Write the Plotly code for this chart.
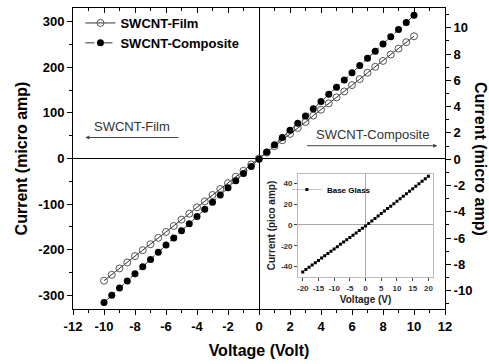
import plotly.graph_objects as go

voltage = [-10, -9.5, -9, -8.5, -8, -7.5, -7, -6.5, -6, -5.5, -5, -4.5, -4, -3.5, -3, -2.5, -2, -1.5, -1, -0.5,
           0, 0.5, 1, 1.5, 2, 2.5, 3, 3.5, 4, 4.5, 5, 5.5, 6, 6.5, 7, 7.5, 8, 8.5, 9, 9.5, 10]
film_ua = [-268, -255, -241, -228, -214, -201, -188, -174, -161, -148, -134, -121, -107, -94, -80, -67, -54, -40, -27, -13,
           0, 13, 27, 40, 54, 67, 80, 94, 107, 121, 134, 147, 161, 174, 188, 201, 214, 228, 241, 255, 268]
composite_ua = [-10.9, -10.36, -9.81, -9.27, -8.72, -8.18, -7.63, -7.09, -6.54, -6.0, -5.45, -4.91, -4.36, -3.82, -3.27,
                -2.73, -2.18, -1.64, -1.09, -0.55, 0, 0.55, 1.1, 1.64, 2.19, 2.74, 3.29, 3.83, 4.38, 4.93, 5.48, 6.02,
                6.57, 7.12, 7.67, 8.21, 8.76, 9.31, 9.86, 10.4, 10.95]

glass_v = list(range(-20, 21))
glass_pa = [-45, -42.8, -40.6, -38.4, -36.2, -34, -31.8, -29.6, -27.4, -25.2, -23, -20.8, -18.6, -16.4, -14.2, -12,
            -9.8, -7.6, -5.4, -3.2, -1, 1.4, 3.8, 6.1, 8.5, 10.9, 13.3, 15.7, 18.0, 20.4, 22.8, 25.2, 27.6, 29.9,
            32.3, 34.7, 37.1, 39.5, 41.8, 44.2, 46.6]

x_ticks = [-12, -10, -8, -6, -4, -2, 0, 2, 4, 6, 8, 10, 12]
x_ticktext = ["-12", "-10", "-8", "-6", "-4", "-2", "0", "2", "4", "6", "8", "10", "12"]
y_ticks = [-300, -200, -100, 0, 100, 200, 300]
y_ticktext = ["-300", "-200", "-100", "0", "100", "200", "300"]
y2_ticks = [-10, -8, -6, -4, -2, 0, 2, 4, 6, 8, 10]
y2_ticktext = ["-10", "-8", "-6", "-4", "-2", "0", "2", "4", "6", "8", "10"]
inset_x_ticks = [-20, -15, -10, -5, 0, 5, 10, 15, 20]
inset_x_ticktext = ["-20", "-15", "-10", "-5", "0", "5", "10", "15", "20"]
inset_y_ticks = [-40, -20, 0, 20, 40]
inset_y_ticktext = ["-40", "-20", "0", "20", "40"]

FONT = "Liberation Sans, Arial, sans-serif"

fig = go.Figure()
fig.add_trace(go.Scatter(x=voltage, y=film_ua, name="SWCNT-Film", mode="lines+markers",
                         line=dict(color="#333", width=1),
                         marker=dict(symbol="circle-open", size=7, color="#555", line=dict(width=1)),
                         xaxis="x", yaxis="y", legend="legend"))
fig.add_trace(go.Scatter(x=voltage, y=composite_ua, name="SWCNT-Composite", mode="lines+markers",
                         line=dict(color="#333", width=1, dash="dashdot"),
                         marker=dict(symbol="circle", size=7, color="black"),
                         xaxis="x", yaxis="y2", legend="legend"))
fig.add_trace(go.Scatter(x=[None], y=[None], xaxis="x3", yaxis="y", showlegend=False, hoverinfo="skip"))
fig.add_trace(go.Scatter(x=glass_v, y=glass_pa, name="Base Glass", mode="lines+markers",
                         line=dict(color="#999", width=0.6),
                         marker=dict(symbol="square", size=3, color="black"),
                         xaxis="x4", yaxis="y4", legend="legend2"))

tickfont = dict(family=FONT, size=13, color="black", weight="bold")
inset_tickfont = dict(family=FONT, size=8, color="#333", weight="bold")
fig.update_layout(
    width=489, height=364,
    margin=dict(l=73, r=44, t=7, b=54),
    paper_bgcolor="white", plot_bgcolor="white",
    font=dict(family=FONT, color="black"),
    xaxis=dict(range=[-12, 12], tickvals=x_ticks, ticktext=x_ticktext, ticks="outside", ticklen=5, tickwidth=1,
               tickcolor="black",
               minor=dict(dtick=1, ticks="outside", ticklen=3, tickcolor="black"),
               showline=True, linecolor="black", linewidth=1, mirror=True, showgrid=False,
               zeroline=True, zerolinecolor="black", zerolinewidth=1,
               tickfont=tickfont,
               title=dict(text="Voltage (Volt)", font=dict(family=FONT, size=16, weight="bold"), standoff=12)),
    xaxis3=dict(range=[-12, 12], matches="x", overlaying="x", side="top", anchor="y", dtick=2,
                ticks="inside", ticklen=5, tickcolor="black",
                minor=dict(dtick=1, ticks="inside", ticklen=3, tickcolor="black"),
                showticklabels=False, showgrid=False, zeroline=False, showline=False),
    yaxis=dict(range=[-330, 330], tickvals=y_ticks, ticktext=y_ticktext, ticks="outside", ticklen=5,
               tickcolor="black",
               minor=dict(dtick=50, ticks="outside", ticklen=3, tickcolor="black"),
               showline=True, linecolor="black", linewidth=1, mirror=True, showgrid=False,
               zeroline=True, zerolinecolor="black", zerolinewidth=1,
               tickfont=tickfont,
               title=dict(text="Current (micro amp)", font=dict(family=FONT, size=16, weight="bold"), standoff=6)),
    yaxis2=dict(range=[-11.4, 11.5], tickvals=y2_ticks, ticktext=y2_ticktext, overlaying="y", side="right",
                anchor="x", ticks="outside", ticklen=5, tickcolor="black",
                minor=dict(dtick=1, ticks="outside", ticklen=3, tickcolor="black"),
                showgrid=False, zeroline=False, showline=False, tickfont=tickfont),
    xaxis4=dict(domain=[0.605, 0.968], anchor="y4", range=[-21.5, 21.5], tickvals=inset_x_ticks,
                ticktext=inset_x_ticktext, tickangle=0,
                ticks="outside", ticklen=3, tickcolor="#444",
                showline=True, linecolor="#bbb", linewidth=1, mirror=True, showgrid=False,
                zeroline=True, zerolinecolor="#aaa", zerolinewidth=1,
                tickfont=inset_tickfont,
                title=dict(text="Voltage (V)", font=dict(family=FONT, size=10, color="#222", weight="bold"),
                           standoff=4)),
    yaxis4=dict(domain=[0.106, 0.449], anchor="x4", range=[-50, 49], tickvals=inset_y_ticks,
                ticktext=inset_y_ticktext,
                ticks="outside", ticklen=3, tickcolor="#444",
                showline=True, linecolor="#bbb", linewidth=1, mirror=True, showgrid=False,
                zeroline=True, zerolinecolor="#aaa", zerolinewidth=1,
                tickfont=inset_tickfont,
                title=dict(text="Current (pico amp)", font=dict(family=FONT, size=10, color="#222", weight="bold"),
                           standoff=3)),
    legend=dict(x=0.02, y=1.0, xanchor="left", yanchor="top", bgcolor="rgba(0,0,0,0)",
                font=dict(family=FONT, size=13, weight="bold"), tracegroupgap=0, itemwidth=30),
    legend2=dict(x=0.575, y=0.445, xanchor="left", yanchor="top", bgcolor="rgba(0,0,0,0)",
                 font=dict(family=FONT, size=8, weight="bold"), itemwidth=30),
    showlegend=True,
)

arrow_color = "#444"
fig.add_annotation(x=-11.2, y=46, ax=-5.1, ay=46, xref="x", yref="y", axref="x", ayref="y",
                   text="", showarrow=True, arrowhead=2, arrowsize=0.8, arrowwidth=1, arrowcolor=arrow_color)
fig.add_annotation(x=-8.2, y=70, xref="x", yref="y", text="SWCNT-Film", showarrow=False,
                   font=dict(family=FONT, size=13, color="#333"))
fig.add_annotation(x=11.5, y=28, ax=3.0, ay=28, xref="x", yref="y", axref="x", ayref="y",
                   text="", showarrow=True, arrowhead=2, arrowsize=0.8, arrowwidth=1, arrowcolor=arrow_color)
fig.add_annotation(x=7.3, y=52, xref="x", yref="y", text="SWCNT-Composite", showarrow=False,
                   font=dict(family=FONT, size=13, color="#333"))
fig.add_annotation(x=(480 - 73) / 372, y=(310 - 159) / 303, xref="paper", yref="paper",
                   xanchor="center", yanchor="middle", text="Current (micro amp)", showarrow=False,
                   textangle=90, font=dict(family=FONT, size=16, weight="bold"))

fig.write_html("out.html", config={"displayModeBar": False},
               post_script="document.body.style.margin='0';")
